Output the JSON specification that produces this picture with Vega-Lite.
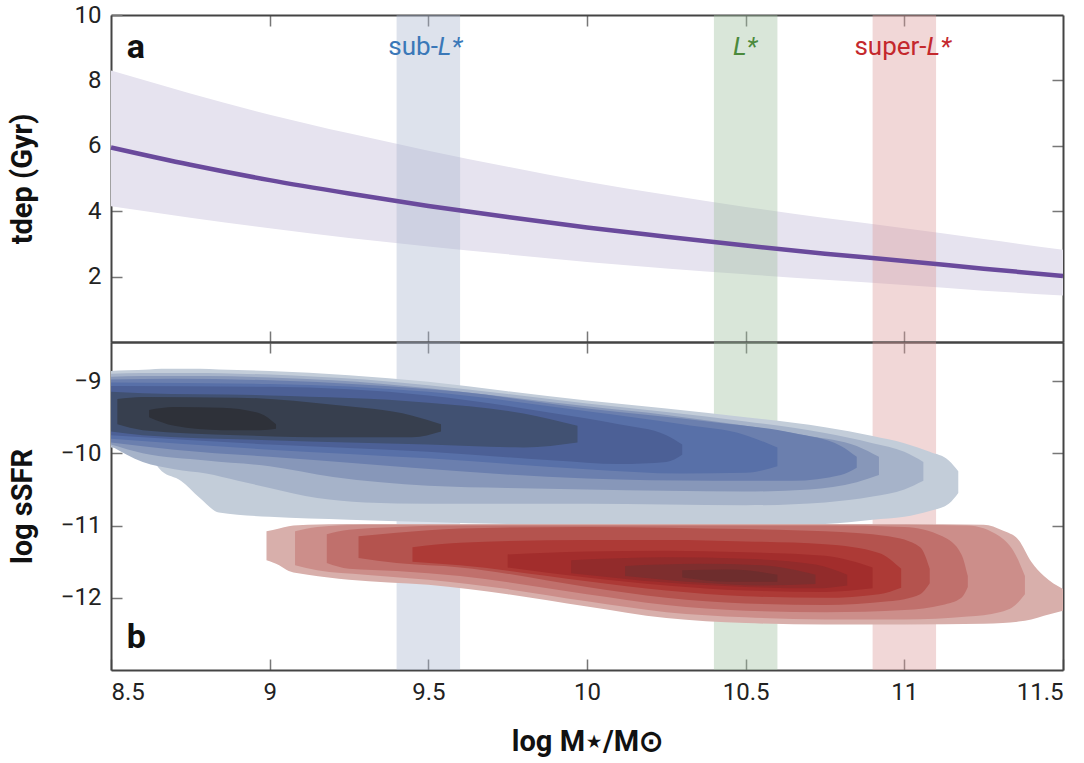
{
  "$schema": "https://vega.github.io/schema/vega-lite/v6.json",
  "padding": {"left": 8, "top": 3, "right": 10, "bottom": 5},
  "spacing": 0,
  "bounds": "flush",
  "background": "white",
  "config": {
    "view": {"stroke": null},
    "font": "Roboto",
    "axis": {
      "labelFont": "Roboto", "labelFontSize": 24, "labelColor": "#222",
      "tickColor": "#777", "tickWidth": 1.5, "domainColor": "#444", "domainWidth": 2,
      "grid": false, "titleFont": "Roboto", "titleFontWeight": "bold", "titleFontSize": 29,
      "titleColor": "#111", "zindex": 1
    }
  },
  "datasets": {
    "tdep": [
      {"x": 8.5, "t": 5.95, "lo": 4.15, "hi": 8.30},
      {"x": 8.75, "t": 5.42, "lo": 3.80, "hi": 7.60},
      {"x": 9.0, "t": 4.95, "lo": 3.48, "hi": 6.95},
      {"x": 9.25, "t": 4.54, "lo": 3.18, "hi": 6.38},
      {"x": 9.5, "t": 4.16, "lo": 2.92, "hi": 5.85},
      {"x": 9.75, "t": 3.82, "lo": 2.68, "hi": 5.36},
      {"x": 10.0, "t": 3.50, "lo": 2.45, "hi": 4.90},
      {"x": 10.25, "t": 3.22, "lo": 2.25, "hi": 4.50},
      {"x": 10.5, "t": 2.95, "lo": 2.07, "hi": 4.13},
      {"x": 10.75, "t": 2.70, "lo": 1.90, "hi": 3.79},
      {"x": 11.0, "t": 2.48, "lo": 1.74, "hi": 3.48},
      {"x": 11.25, "t": 2.24, "lo": 1.57, "hi": 3.15},
      {"x": 11.5, "t": 2.02, "lo": 1.42, "hi": 2.82}
    ],
    "bands": [
      {"name": "sub", "start": 9.4, "end": 9.6},
      {"name": "L", "start": 10.4, "end": 10.6},
      {"name": "super", "start": 10.9, "end": 11.1}
    ],
    "prefix": [
      {"text": "sub-", "x": 9.53, "y": 8.78, "group": "sub"},
      {"text": "super-", "x": 11.07, "y": 8.78, "group": "super"}
    ],
    "lstar": [
      {"text": "L*", "x": 9.53, "y": 8.78, "group": "sub"},
      {"text": "L*", "x": 10.46, "y": 8.78, "group": "L"},
      {"text": "L*", "x": 11.07, "y": 8.78, "group": "super"}
    ],
    "panelA": [{"text": "a", "x": 8.55, "y": 8.7}],
    "panelB": [{"text": "b", "x": 8.55, "y": -12.69}],
    "contours": [
      {"level": "b1", "x": 8.5, "top": -8.86, "bot": -9.92},
      {"level": "b1", "x": 8.55, "top": -8.85, "bot": -9.95},
      {"level": "b1", "x": 8.62, "top": -8.84, "bot": -10.05},
      {"level": "b1", "x": 8.66, "top": -8.83, "bot": -10.25},
      {"level": "b1", "x": 8.72, "top": -8.83, "bot": -10.38},
      {"level": "b1", "x": 8.78, "top": -8.83, "bot": -10.62},
      {"level": "b1", "x": 8.84, "top": -8.84, "bot": -10.82},
      {"level": "b1", "x": 9.0, "top": -8.86, "bot": -10.88},
      {"level": "b1", "x": 9.25, "top": -8.92, "bot": -10.92},
      {"level": "b1", "x": 9.5, "top": -9.01, "bot": -10.95},
      {"level": "b1", "x": 9.75, "top": -9.14, "bot": -10.98},
      {"level": "b1", "x": 10.0, "top": -9.27, "bot": -11.0},
      {"level": "b1", "x": 10.25, "top": -9.38, "bot": -11.0},
      {"level": "b1", "x": 10.5, "top": -9.5, "bot": -11.0},
      {"level": "b1", "x": 10.75, "top": -9.64, "bot": -10.98},
      {"level": "b1", "x": 10.9, "top": -9.76, "bot": -10.92},
      {"level": "b1", "x": 11.0, "top": -9.86, "bot": -10.88},
      {"level": "b1", "x": 11.08, "top": -9.98, "bot": -10.8},
      {"level": "b1", "x": 11.14, "top": -10.1, "bot": -10.7},
      {"level": "b1", "x": 11.17, "top": -10.25, "bot": -10.55},

      {"level": "b2", "x": 8.5, "top": -8.9, "bot": -9.9},
      {"level": "b2", "x": 8.6, "top": -8.89, "bot": -10.12},
      {"level": "b2", "x": 8.7, "top": -8.89, "bot": -10.22},
      {"level": "b2", "x": 8.8, "top": -8.89, "bot": -10.28},
      {"level": "b2", "x": 8.9, "top": -8.9, "bot": -10.38},
      {"level": "b2", "x": 9.0, "top": -8.91, "bot": -10.48},
      {"level": "b2", "x": 9.15, "top": -8.94, "bot": -10.62},
      {"level": "b2", "x": 9.3, "top": -8.98, "bot": -10.68},
      {"level": "b2", "x": 9.5, "top": -9.06, "bot": -10.7},
      {"level": "b2", "x": 9.75, "top": -9.18, "bot": -10.7},
      {"level": "b2", "x": 10.0, "top": -9.31, "bot": -10.7},
      {"level": "b2", "x": 10.25, "top": -9.43, "bot": -10.71},
      {"level": "b2", "x": 10.5, "top": -9.56, "bot": -10.72},
      {"level": "b2", "x": 10.75, "top": -9.72, "bot": -10.68},
      {"level": "b2", "x": 10.9, "top": -9.86, "bot": -10.6},
      {"level": "b2", "x": 11.0, "top": -9.98, "bot": -10.5},
      {"level": "b2", "x": 11.06, "top": -10.12, "bot": -10.38},

      {"level": "b3", "x": 8.5, "top": -8.94, "bot": -9.88},
      {"level": "b3", "x": 8.6, "top": -8.93, "bot": -10.0},
      {"level": "b3", "x": 8.8, "top": -8.93, "bot": -10.1},
      {"level": "b3", "x": 9.0, "top": -8.95, "bot": -10.18},
      {"level": "b3", "x": 9.2, "top": -8.99, "bot": -10.33},
      {"level": "b3", "x": 9.5, "top": -9.1, "bot": -10.45},
      {"level": "b3", "x": 9.75, "top": -9.22, "bot": -10.48},
      {"level": "b3", "x": 10.0, "top": -9.35, "bot": -10.5},
      {"level": "b3", "x": 10.25, "top": -9.47, "bot": -10.52},
      {"level": "b3", "x": 10.5, "top": -9.62, "bot": -10.53},
      {"level": "b3", "x": 10.7, "top": -9.76, "bot": -10.5},
      {"level": "b3", "x": 10.85, "top": -9.9, "bot": -10.4},
      {"level": "b3", "x": 10.92, "top": -10.05, "bot": -10.3},

      {"level": "b4", "x": 8.5, "top": -8.98, "bot": -9.85},
      {"level": "b4", "x": 8.7, "top": -8.97, "bot": -9.95},
      {"level": "b4", "x": 9.0, "top": -8.99, "bot": -10.05},
      {"level": "b4", "x": 9.3, "top": -9.05, "bot": -10.15},
      {"level": "b4", "x": 9.6, "top": -9.15, "bot": -10.25},
      {"level": "b4", "x": 10.0, "top": -9.38, "bot": -10.35},
      {"level": "b4", "x": 10.4, "top": -9.57, "bot": -10.38},
      {"level": "b4", "x": 10.65, "top": -9.72, "bot": -10.38},
      {"level": "b4", "x": 10.8, "top": -9.9, "bot": -10.3},
      {"level": "b4", "x": 10.85, "top": -10.05, "bot": -10.2},

      {"level": "b5", "x": 8.5, "top": -9.02, "bot": -9.8},
      {"level": "b5", "x": 9.0, "top": -9.04, "bot": -9.95},
      {"level": "b5", "x": 9.5, "top": -9.15, "bot": -10.07},
      {"level": "b5", "x": 10.0, "top": -9.42, "bot": -10.22},
      {"level": "b5", "x": 10.3, "top": -9.6, "bot": -10.28},
      {"level": "b5", "x": 10.5, "top": -9.75, "bot": -10.27},
      {"level": "b5", "x": 10.6, "top": -9.92, "bot": -10.18},

      {"level": "b6", "x": 8.5, "top": -9.07, "bot": -9.75},
      {"level": "b6", "x": 9.0, "top": -9.08, "bot": -9.88},
      {"level": "b6", "x": 9.5, "top": -9.2, "bot": -9.98},
      {"level": "b6", "x": 9.9, "top": -9.45, "bot": -10.1},
      {"level": "b6", "x": 10.1, "top": -9.6, "bot": -10.15},
      {"level": "b6", "x": 10.25, "top": -9.75, "bot": -10.12},
      {"level": "b6", "x": 10.3, "top": -9.88, "bot": -10.02},

      {"level": "b7", "x": 8.5, "top": -9.15, "bot": -9.7},
      {"level": "b7", "x": 8.6, "top": -9.17, "bot": -9.75},
      {"level": "b7", "x": 9.0, "top": -9.2, "bot": -9.82},
      {"level": "b7", "x": 9.5, "top": -9.3, "bot": -9.88},
      {"level": "b7", "x": 9.8, "top": -9.45, "bot": -9.92},
      {"level": "b7", "x": 9.97, "top": -9.62, "bot": -9.85},

      {"level": "b8", "x": 8.52, "top": -9.25, "bot": -9.6},
      {"level": "b8", "x": 8.6, "top": -9.22, "bot": -9.68},
      {"level": "b8", "x": 8.9, "top": -9.23, "bot": -9.75},
      {"level": "b8", "x": 9.2, "top": -9.33, "bot": -9.78},
      {"level": "b8", "x": 9.45, "top": -9.48, "bot": -9.78},
      {"level": "b8", "x": 9.54, "top": -9.6, "bot": -9.7},

      {"level": "b9", "x": 8.62, "top": -9.4, "bot": -9.5},
      {"level": "b9", "x": 8.7, "top": -9.36, "bot": -9.62},
      {"level": "b9", "x": 8.85, "top": -9.37, "bot": -9.68},
      {"level": "b9", "x": 8.97, "top": -9.45, "bot": -9.68},
      {"level": "b9", "x": 9.02, "top": -9.6, "bot": -9.66},

      {"level": "r1", "x": 8.99, "top": -11.08, "bot": -11.48},
      {"level": "r1", "x": 9.03, "top": -11.04, "bot": -11.55},
      {"level": "r1", "x": 9.06, "top": -11.01, "bot": -11.63},
      {"level": "r1", "x": 9.12, "top": -10.99, "bot": -11.68},
      {"level": "r1", "x": 9.25, "top": -10.98, "bot": -11.75},
      {"level": "r1", "x": 9.5, "top": -10.98, "bot": -11.82},
      {"level": "r1", "x": 9.75, "top": -10.98, "bot": -11.95},
      {"level": "r1", "x": 10.0, "top": -10.98, "bot": -12.12},
      {"level": "r1", "x": 10.25, "top": -10.98, "bot": -12.28},
      {"level": "r1", "x": 10.5, "top": -10.98, "bot": -12.35},
      {"level": "r1", "x": 10.75, "top": -10.98, "bot": -12.37},
      {"level": "r1", "x": 11.0, "top": -10.98, "bot": -12.37},
      {"level": "r1", "x": 11.25, "top": -10.99, "bot": -12.36},
      {"level": "r1", "x": 11.31, "top": -11.07, "bot": -12.35},
      {"level": "r1", "x": 11.36, "top": -11.2, "bot": -12.33},
      {"level": "r1", "x": 11.4, "top": -11.5, "bot": -12.3},
      {"level": "r1", "x": 11.44, "top": -11.7, "bot": -12.25},
      {"level": "r1", "x": 11.5, "top": -11.88, "bot": -12.18},

      {"level": "r2", "x": 9.08, "top": -11.08, "bot": -11.55},
      {"level": "r2", "x": 9.15, "top": -11.02, "bot": -11.62},
      {"level": "r2", "x": 9.3, "top": -10.99, "bot": -11.68},
      {"level": "r2", "x": 9.5, "top": -10.99, "bot": -11.75},
      {"level": "r2", "x": 9.75, "top": -10.99, "bot": -11.88},
      {"level": "r2", "x": 10.0, "top": -10.99, "bot": -12.05},
      {"level": "r2", "x": 10.25, "top": -10.99, "bot": -12.2},
      {"level": "r2", "x": 10.5, "top": -10.99, "bot": -12.27},
      {"level": "r2", "x": 10.75, "top": -10.99, "bot": -12.3},
      {"level": "r2", "x": 11.0, "top": -10.99, "bot": -12.3},
      {"level": "r2", "x": 11.2, "top": -11.0, "bot": -12.26},
      {"level": "r2", "x": 11.3, "top": -11.15, "bot": -12.2},
      {"level": "r2", "x": 11.35, "top": -11.4, "bot": -12.1},
      {"level": "r2", "x": 11.38, "top": -11.7, "bot": -11.95},

      {"level": "r3", "x": 9.18, "top": -11.12, "bot": -11.52},
      {"level": "r3", "x": 9.25, "top": -11.06, "bot": -11.6},
      {"level": "r3", "x": 9.4, "top": -11.02, "bot": -11.63},
      {"level": "r3", "x": 9.6, "top": -11.0, "bot": -11.7},
      {"level": "r3", "x": 10.0, "top": -11.0, "bot": -11.95},
      {"level": "r3", "x": 10.25, "top": -11.0, "bot": -12.1},
      {"level": "r3", "x": 10.5, "top": -11.0, "bot": -12.18},
      {"level": "r3", "x": 10.75, "top": -11.0, "bot": -12.2},
      {"level": "r3", "x": 11.0, "top": -11.02, "bot": -12.17},
      {"level": "r3", "x": 11.12, "top": -11.15, "bot": -12.1},
      {"level": "r3", "x": 11.18, "top": -11.4, "bot": -12.0},
      {"level": "r3", "x": 11.2, "top": -11.7, "bot": -11.85},

      {"level": "r4", "x": 9.28, "top": -11.15, "bot": -11.45},
      {"level": "r4", "x": 9.4, "top": -11.1, "bot": -11.52},
      {"level": "r4", "x": 9.6, "top": -11.04, "bot": -11.58},
      {"level": "r4", "x": 10.0, "top": -11.02, "bot": -11.85},
      {"level": "r4", "x": 10.25, "top": -11.03, "bot": -12.0},
      {"level": "r4", "x": 10.5, "top": -11.05, "bot": -12.08},
      {"level": "r4", "x": 10.75, "top": -11.08, "bot": -12.1},
      {"level": "r4", "x": 10.95, "top": -11.15, "bot": -12.05},
      {"level": "r4", "x": 11.05, "top": -11.3, "bot": -11.95},
      {"level": "r4", "x": 11.08, "top": -11.6, "bot": -11.8},

      {"level": "r5", "x": 9.45, "top": -11.3, "bot": -11.5},
      {"level": "r5", "x": 9.6, "top": -11.24, "bot": -11.55},
      {"level": "r5", "x": 10.0, "top": -11.2, "bot": -11.77},
      {"level": "r5", "x": 10.25, "top": -11.2, "bot": -11.9},
      {"level": "r5", "x": 10.5, "top": -11.22, "bot": -11.98},
      {"level": "r5", "x": 10.75, "top": -11.26, "bot": -12.0},
      {"level": "r5", "x": 10.92, "top": -11.38, "bot": -11.95},
      {"level": "r5", "x": 10.99, "top": -11.6, "bot": -11.86},

      {"level": "r6", "x": 9.75, "top": -11.4, "bot": -11.58},
      {"level": "r6", "x": 10.0, "top": -11.36, "bot": -11.72},
      {"level": "r6", "x": 10.25, "top": -11.35, "bot": -11.83},
      {"level": "r6", "x": 10.5, "top": -11.37, "bot": -11.9},
      {"level": "r6", "x": 10.75, "top": -11.42, "bot": -11.92},
      {"level": "r6", "x": 10.9, "top": -11.58, "bot": -11.87},

      {"level": "r7", "x": 9.95, "top": -11.48, "bot": -11.66},
      {"level": "r7", "x": 10.25, "top": -11.44, "bot": -11.79},
      {"level": "r7", "x": 10.5, "top": -11.46, "bot": -11.85},
      {"level": "r7", "x": 10.72, "top": -11.54, "bot": -11.87},
      {"level": "r7", "x": 10.82, "top": -11.68, "bot": -11.83},

      {"level": "r8", "x": 10.12, "top": -11.56, "bot": -11.7},
      {"level": "r8", "x": 10.35, "top": -11.53, "bot": -11.79},
      {"level": "r8", "x": 10.55, "top": -11.55, "bot": -11.83},
      {"level": "r8", "x": 10.72, "top": -11.68, "bot": -11.81},

      {"level": "r9", "x": 10.3, "top": -11.62, "bot": -11.72},
      {"level": "r9", "x": 10.45, "top": -11.61, "bot": -11.78},
      {"level": "r9", "x": 10.6, "top": -11.68, "bot": -11.78}
    ]
  },
  "vconcat": [
    {
      "width": 952,
      "height": 327,
      "resolve": {"axis": {"x": "independent", "y": "independent"}, "scale": {"color": "independent"}},
      "layer": [
        {
          "data": {"name": "tdep"},
          "mark": {"type": "area", "color": "#e6e3ef", "interpolate": "monotone"},
          "encoding": {
            "x": {"field": "x", "type": "quantitative", "scale": {"domain": [8.5, 11.5], "nice": false, "zero": false},
                  "axis": {"orient": "bottom", "labels": false, "title": null, "tickSize": -11, "values": [9, 9.5, 10, 10.5, 11]}},
            "y": {"field": "lo", "type": "quantitative", "scale": {"domain": [0, 10], "nice": false, "zero": false},
                  "axis": {"orient": "left", "values": [2, 4, 6, 8, 10], "format": ".1~f", "tickSize": -11, "labelPadding": 21,
                           "title": "tdep (Gyr)", "titleX": -80, "titleBaseline": "alphabetic"}},
            "y2": {"field": "hi"}
          }
        },
        {
          "data": {"name": "bands"},
          "mark": {"type": "rect", "opacity": 0.4},
          "encoding": {
            "x": {"field": "start", "type": "quantitative", "axis": null},
            "x2": {"field": "end"},
            "color": {"field": "name", "type": "nominal", "scale": {"domain": ["sub", "L", "super"], "range": ["#a9b7d0", "#9fc19f", "#dc9b9b"]}, "legend": null}
          }
        },
        {
          "data": {"name": "tdep"},
          "mark": {"type": "line", "color": "#6a4a9c", "strokeWidth": 4.5, "interpolate": "monotone"},
          "encoding": {
            "x": {"field": "x", "type": "quantitative", "axis": null},
            "y": {"field": "t", "type": "quantitative", "axis": null}
          }
        },
        {
          "data": {"name": "prefix"},
          "mark": {"type": "text", "fontSize": 26, "align": "right", "baseline": "alphabetic", "font": "Roboto"},
          "encoding": {
            "x": {"field": "x", "type": "quantitative",
                  "axis": {"orient": "top", "labels": false, "title": null, "tickSize": -11, "values": [9, 9.5, 10, 10.5, 11]}},
            "y": {"field": "y", "type": "quantitative",
                  "axis": {"orient": "right", "labels": false, "title": null, "tickSize": -11, "values": [2, 4, 6, 8]}},
            "text": {"field": "text"},
            "color": {"field": "group", "type": "nominal", "scale": {"domain": ["sub", "L", "super"], "range": ["#3a78b8", "#4b8a3c", "#c4282d"]}, "legend": null}
          }
        },
        {
          "data": {"name": "lstar"},
          "mark": {"type": "text", "fontSize": 26, "align": "left", "baseline": "alphabetic", "fontStyle": "italic", "font": "Roboto"},
          "encoding": {
            "x": {"field": "x", "type": "quantitative", "axis": null},
            "y": {"field": "y", "type": "quantitative", "axis": null},
            "text": {"field": "text"},
            "color": {"field": "group", "type": "nominal", "scale": {"domain": ["sub", "L", "super"], "range": ["#3a78b8", "#4b8a3c", "#c4282d"]}, "legend": null}
          }
        },
        {
          "data": {"name": "panelA"},
          "mark": {"type": "text", "fontSize": 34, "fontWeight": "bold", "align": "left", "baseline": "alphabetic", "color": "#111", "font": "Roboto"},
          "encoding": {
            "x": {"field": "x", "type": "quantitative", "axis": null},
            "y": {"field": "y", "type": "quantitative", "axis": null},
            "text": {"field": "text"}
          }
        }
      ]
    },
    {
      "width": 952,
      "height": 328,
      "resolve": {"axis": {"x": "independent", "y": "independent"}, "scale": {"color": "independent"}},
      "layer": [
        {
          "data": {"name": "bands"},
          "mark": {"type": "rect", "opacity": 0.4},
          "encoding": {
            "x": {"field": "start", "type": "quantitative", "scale": {"domain": [8.5, 11.5], "nice": false, "zero": false}, "axis": null},
            "x2": {"field": "end"},
            "color": {"field": "name", "type": "nominal", "scale": {"domain": ["sub", "L", "super"], "range": ["#a9b7d0", "#9fc19f", "#dc9b9b"]}, "legend": null}
          }
        },
        {
          "data": {"name": "contours"},
          "mark": {"type": "area", "interpolate": "monotone", "clip": true},
          "encoding": {
            "x": {"field": "x", "type": "quantitative",
                  "axis": {"orient": "bottom", "values": [8.5, 9, 9.5, 10, 10.5, 11, 11.5], "format": ".1~f", "tickSize": -11, "labelPadding": 21,
                           "title": "log M⋆/M⊙", "titlePadding": 23}},
            "y": {"field": "top", "type": "quantitative", "scale": {"domain": [-13, -8.46], "nice": false, "zero": false},
                  "axis": {"orient": "left", "values": [-9, -10, -11, -12], "format": ".1~f", "tickSize": -11, "labelPadding": 21,
                           "title": "log sSFR", "titleX": -80, "titleBaseline": "alphabetic"}},
            "y2": {"field": "bot"},
            "color": {"field": "level", "type": "nominal",
                      "scale": {"domain": ["b1", "b2", "b3", "b4", "b5", "b6", "b7", "b8", "b9", "r1", "r2", "r3", "r4", "r5", "r6", "r7", "r8", "r9"],
                                "range": ["#c3cdd9", "#a6b3c9", "#8797b9", "#6b7fae", "#5870a8", "#4c6096", "#415172", "#373f4e", "#2e3139",
                                          "#d8afab", "#cc8e8a", "#c0706c", "#b4534e", "#ad3a36", "#a22d2c", "#922b2b", "#7e2e2e", "#6e2d2d"]},
                      "legend": null}
          }
        },
        {
          "data": {"name": "panelB"},
          "mark": {"type": "text", "fontSize": 34, "fontWeight": "bold", "align": "left", "baseline": "alphabetic", "color": "#111", "font": "Roboto"},
          "encoding": {
            "x": {"field": "x", "type": "quantitative",
                  "axis": {"orient": "top", "labels": false, "title": null, "tickSize": -11, "values": [9, 9.5, 10, 10.5, 11]}},
            "y": {"field": "y", "type": "quantitative",
                  "axis": {"orient": "right", "labels": false, "title": null, "tickSize": -11, "values": [-9, -10, -11, -12]}},
            "text": {"field": "text"}
          }
        }
      ]
    }
  ]
}
